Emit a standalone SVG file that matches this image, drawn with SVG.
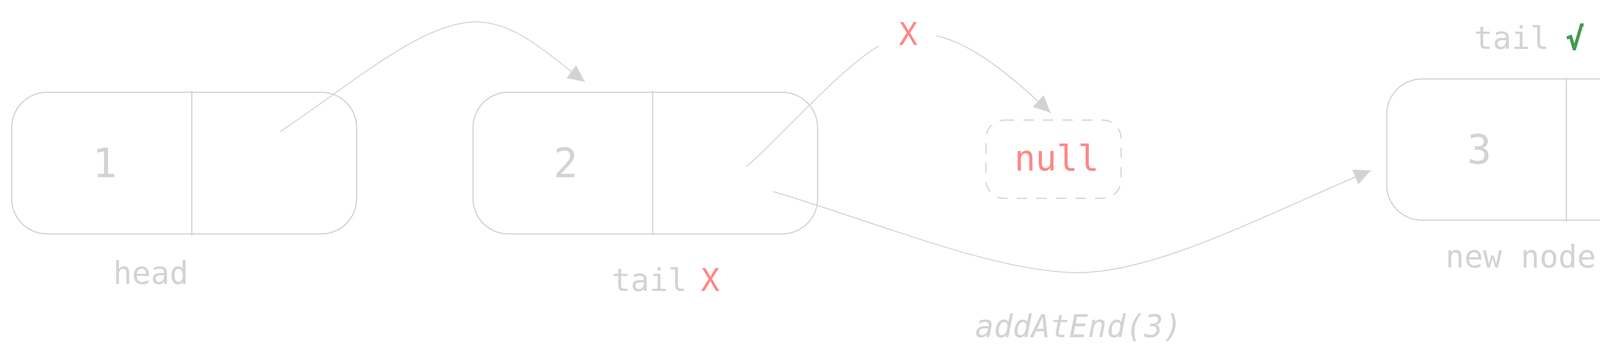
<svg xmlns="http://www.w3.org/2000/svg" width="4462" height="923" viewBox="0 0 4462 923">
<style>
  .box { fill: none; stroke: #d3d3d3; stroke-width: 3; }
  .div { stroke: #d3d3d3; stroke-width: 3; }
  .edge { fill: none; stroke: #d3d3d3; stroke-width: 2.5; stroke-linecap: round; }
  .dash { fill: none; stroke: #d3d3d3; stroke-width: 3; stroke-dasharray: 24 26; stroke-linecap: round; }
  .t { font-family: "DejaVu Sans Mono", "Liberation Mono", monospace; fill: #d3d3d3; }
  .val { font-size: 104px; text-anchor: middle; }
  .lbl { font-size: 80px; }
  .red { fill: #ff8787; }
  .green { fill: #3e9c4e; font-weight: bold; }
</style>
<defs>
  <marker id="ah" viewBox="0 0 43 41" refX="43" refY="20.5" markerWidth="43" markerHeight="41" markerUnits="userSpaceOnUse" orient="auto">
    <path d="M0,0 L43,20.5 L0,41 Z" fill="#d3d3d3"/>
  </marker>
</defs>
<rect width="4462" height="923" fill="#ffffff"/>

<g id="node1">
  <rect class="box" x="30" y="236" width="883" height="362" rx="90" ry="90"/>
  <line class="div" x1="491" y1="232" x2="491" y2="602"/>
  <text class="t val" x="268" y="453">1</text>
  <text class="t lbl" x="386" y="726" text-anchor="middle">head</text>
</g>

<g id="node2">
  <rect class="box" x="1211" y="236" width="882" height="362" rx="90" ry="90"/>
  <line class="div" x1="1671" y1="232" x2="1671" y2="602"/>
  <text class="t val" x="1448" y="453">2</text>
  <text class="t lbl" x="1566" y="744">tail</text>
  <text class="t lbl red" x="1794" y="744">X</text>
</g>

<g id="null">
  <rect class="dash" x="2524" y="307" width="346" height="200" rx="47" ry="47"/>
  <text class="t red" x="2705" y="436" font-size="90" text-anchor="middle">null</text>
</g>

<g id="node3">
  <rect class="box" x="3550" y="202" width="883" height="361" rx="90" ry="90"/>
  <line class="div" x1="4010" y1="198" x2="4010" y2="567"/>
  <text class="t val" x="3787" y="419">3</text>
  <text class="t lbl" x="3773" y="125">tail</text>
  <text class="t lbl green" x="4008" y="127">√</text>
  <text class="t lbl" x="3893" y="684" text-anchor="middle">new node</text>
</g>

<g id="labels">
  <text class="t lbl red" x="2325" y="115" text-anchor="middle">X</text>
  <text class="t lbl" x="2761" y="862" text-anchor="middle" font-style="italic">addAtEnd(3)</text>
</g>

<g id="connectors">
  <path class="edge" d="M718,336 C900,215 1080,56 1218,56 C1320,56 1400,137 1497,209" marker-end="url(#ah)"/>
  <path class="edge" d="M1912,425 C1990,360 2150,175 2249,118"/>
  <path class="edge" d="M2399,92 C2490,112 2590,195 2689,288" marker-end="url(#ah)"/>
  <path class="edge" d="M1980,490 C2250,570 2550,697 2759,697 C2960,697 3230,553 3509,436" marker-end="url(#ah)"/>
</g>
</svg>
